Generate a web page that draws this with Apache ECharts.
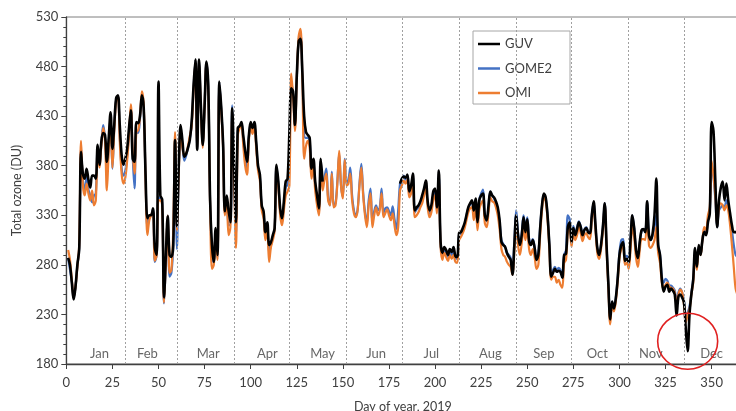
<!DOCTYPE html>
<html><head><meta charset="utf-8">
<script src="https://cdn.jsdelivr.net/npm/echarts@6/dist/echarts.min.js"></script>
<style>html,body{margin:0;padding:0;background:#fff;}#c{width:736px;height:411px;}</style>
</head><body><div id="c"></div>
<script>
// Daily total ozone (DU), day of year 1..365, 2019
const guv = [
287,280,262,245,258,280,296,394,372,367,
377,366,358,370,370,367,401,381,404,413,
411,384,408,434,397,421,448,451,421,391,
381,387,397,418,436,387,384,424,423,431,
451,438,370,327,330,330,337,297,290,465,
350,346,247,290,329,290,288,300,406,319,
380,421,405,389,392,398,406,425,460,487,
396,487,440,401,440,485,460,345,300,283,
317,290,465,440,404,334,350,335,323,438,
380,323,418,420,424,410,395,384,410,424,
418,424,404,380,371,340,334,313,323,
300,303,310,317,381,364,337,327,344,364,
367,414,458,455,421,470,505,508,475,430,
414,411,408,377,387,364,350,337,387,364,
null,null,null,null,null,null,null,null,null,null,
null,null,null,null,null,null,null,null,null,null,
null,null,null,null,null,null,null,null,null,null,
null,null,null,null,null,null,null,null,null,null,null,
362,367,369,368,371,354,360,372,335,
338,340,344,350,357,365,344,335,340,354,
357,338,375,303,292,298,295,290,296,293,
298,289,288,312,313,317,322,330,338,342,
345,335,347,323,345,350,352,330,325,340,
354,350,348,344,338,325,303,300,298,
292,288,285,270,300,330,310,300,310,328,
313,326,304,300,305,297,285,290,317,340,
352,348,330,300,268,272,276,273,274,273,
267,290,291,318,323,303,317,310,316,323,
318,310,315,317,313,312,330,344,320,297,
290,300,318,342,300,260,225,243,236,246,
265,290,300,303,284,286,283,305,330,317,
295,287,303,315,316,313,344,310,305,312,
330,367,300,290,265,253,258,260,253,256,
254,250,229,248,250,247,242,215,193,230,
250,265,297,278,300,290,305,313,310,323,
332,424,415,365,318,345,358,364,345,362,
345,332,320,313,313,312,310
];
const omi = [
295,285,265,247,258,278,300,405,360,350,
362,352,345,355,340,345,395,378,400,418,
405,355,395,428,378,415,445,450,405,372,
362,368,385,410,442,395,372,414,416,430,
455,440,365,310,325,330,335,284,290,345,
345,340,242,285,330,272,275,315,414,315,
375,412,398,390,392,400,410,420,455,484,
400,484,438,398,440,483,455,340,276,280,
310,285,462,436,400,330,345,310,318,430,
370,297,410,418,420,400,380,371,405,420,
412,420,398,375,365,335,327,305,315,
283,298,305,315,376,358,330,320,335,350,
354,360,473,450,415,468,510,518,470,387,
400,405,398,367,380,355,340,330,382,355,
365,372,345,340,372,338,340,362,395,360,
347,386,360,362,372,345,332,328,335,360,
378,350,330,318,340,352,318,330,338,330,
335,352,328,332,336,330,325,332,320,310,318,
355,360,365,362,366,348,352,365,328,
330,333,338,342,350,358,338,328,333,345,
350,332,365,298,285,292,288,284,290,286,
290,283,282,305,308,312,317,325,333,337,
338,325,340,315,336,342,345,322,318,333,
348,344,343,338,330,316,296,290,288,
283,280,278,270,295,322,300,290,302,318,
305,318,296,290,296,288,276,280,310,335,
348,344,326,296,265,268,268,262,265,260,
257,282,285,312,318,298,312,305,310,318,
312,304,310,312,308,306,325,340,316,292,
286,296,314,340,296,256,220,240,233,243,
262,286,296,298,280,282,276,295,318,308,
287,278,295,306,306,305,336,300,297,300,
305,318,292,282,262,255,260,262,258,257,
256,252,240,250,255,252,240,222,230,235,
250,262,290,275,296,290,305,318,315,330,
338,385,370,350,320,338,342,340,335,340,
335,320,300,278,256,250,248
];
const gome2 = [
287,275,263,246,258,279,297,398,365,355,
368,356,350,343,350,352,398,380,402,421,
408,375,398,430,377,418,446,450,410,378,
370,375,390,412,438,390,357,414,413,428,
452,436,367,318,327,330,336,283,290,348,
347,343,241,283,330,268,272,300,408,296,
378,416,400,385,390,398,407,422,458,486,
398,486,439,400,440,484,458,342,290,282,
314,287,464,438,402,332,348,320,320,441,
375,310,415,419,422,405,388,378,408,422,
415,422,401,378,368,338,331,310,320,
292,300,308,316,379,361,334,324,340,358,
361,390,463,452,418,468,507,513,472,410,
408,408,404,372,384,360,344,333,385,360,
368,377,348,340,374,340,342,364,392,360,
349,387,362,366,378,350,335,330,336,362,
382,353,333,322,345,357,322,334,340,335,
338,357,332,337,338,334,330,339,326,316,335,
362,366,370,366,370,352,356,370,333,
336,338,342,347,355,362,342,332,337,350,
354,336,370,300,290,295,292,288,293,290,
295,287,286,310,312,316,320,329,337,341,
344,332,346,322,346,352,356,330,324,340,
354,350,347,342,336,323,305,301,298,
292,290,287,276,305,335,312,302,312,330,
316,328,306,302,306,298,286,292,318,340,
350,347,330,300,270,275,278,274,277,275,
268,290,295,330,326,306,319,312,318,324,
319,311,316,318,314,313,330,343,319,296,
290,300,318,342,300,260,224,243,236,246,
266,292,305,306,288,289,285,306,330,317,
294,286,302,314,316,313,344,310,305,310,
318,330,300,290,268,262,266,264,259,259,
257,254,242,252,256,252,244,228,232,238,
252,266,294,278,298,291,305,315,312,326,
334,378,368,346,318,335,338,340,338,345,
340,328,315,300,290,288,286
];
const monthNames = ['Jan','Feb','Mar','Apr','May','Jun','Jul','Aug','Sep','Oct','Nov','Dec'];
const monthLabelDays = [18,44,77,109,139,168,198,230,259,288,317,350];
const monthStarts = [32,60,91,121,152,182,213,244,274,305,335];
const annotationCenter = [337, 203];

const FONT = 'Lato';
const chart = echarts.init(document.getElementById('c'), null, {renderer:'canvas'});
const pairs = arr => arr.map((v,i)=>[i+1, v]);

chart.setOption({
  animation:false,
  backgroundColor:'#ffffff',
  grid:{left:66.3, top:17, width:673, height:347, show:true, borderColor:'#7f7f7f', borderWidth:1,
        containLabel:false, outerBoundsMode:'none'},
  legend:{
    data:['GUV','GOME2','OMI'], orient:'vertical', left:473, top:31,
    icon:'rect', itemWidth:22, itemHeight:2.5, itemGap:10.5, padding:[6,18,4,5],
    borderColor:'#a6a6a6', borderWidth:1, backgroundColor:'#fff',
    textStyle:{fontSize:13, lineHeight:14, color:'#404040', fontFamily:FONT}
  },
  xAxis:{
    type:'value', min:0, max:365, interval:25,
    axisLine:{lineStyle:{color:'#404040', width:1.3}},
    axisTick:{show:true, length:5, lineStyle:{color:'#404040'}},
    axisLabel:{showMaxLabel:false, fontSize:13, color:'#404040', margin:12, fontFamily:FONT},
    splitLine:{show:false},
    name:'Day of year, 2019', nameLocation:'middle', nameGap:36,
    nameTextStyle:{fontSize:12.5, color:'#404040', fontFamily:FONT}
  },
  yAxis:{
    type:'value', min:180, max:530, interval:50,
    axisLine:{show:true, lineStyle:{color:'#404040', width:1.3}},
    axisTick:{show:true, length:5, lineStyle:{color:'#404040'}},
    minorTick:{show:true, splitNumber:5, length:3, lineStyle:{color:'#404040'}},
    axisLabel:{fontSize:13, color:'#404040', margin:8, fontFamily:FONT},
    splitLine:{show:false},
    name:'Total ozone (DU)', nameLocation:'middle', nameGap:43, nameRotate:90,
    nameTextStyle:{fontSize:12.5, color:'#404040', fontFamily:FONT}
  },
  series:[
    {name:'GOME2', type:'line', data:pairs(gome2), symbol:'none', smooth:0.35, z:2,
     lineStyle:{color:'#4472C4', width:2.2}, itemStyle:{color:'#4472C4'}},
    {name:'OMI', type:'line', data:pairs(omi), symbol:'none', smooth:0.35, z:3,
     lineStyle:{color:'#ED7D31', width:2.2}, itemStyle:{color:'#ED7D31'}},
    {name:'GUV', type:'line', data:pairs(guv), symbol:'none', smooth:0.35, z:4, connectNulls:false,
     lineStyle:{color:'#000000', width:2.6}, itemStyle:{color:'#000000'}},
    {name:'months', type:'scatter', symbolSize:0, silent:true, z:1,
     data:monthLabelDays.map((d,i)=>[d,190,monthNames[i]]),
     label:{show:true, position:'inside', formatter:p=>p.data[2], fontSize:13, color:'#404040', fontFamily:FONT},
     markLine:{symbol:'none', silent:true, label:{show:false},
       lineStyle:{type:[2,2], color:'#a0a0a0', width:1},
       data:monthStarts.map(d=>({xAxis:d}))}}
  ]
});

const c = chart.convertToPixel({gridIndex:0}, annotationCenter);
const g = [{type:'ellipse', shape:{cx:c[0], cy:c[1], rx:30, ry:28}, style:{fill:'none', stroke:'#e02020', lineWidth:1.6}, z:100, silent:true}];
if (guv.length!==365||omi.length!==365||gome2.length!==365){
  g.push({type:'text', left:200, top:150, style:{text:'LEN '+guv.length+' '+omi.length+' '+gome2.length, fill:'red', fontSize:20}});
}
chart.setOption({graphic:g});
</script>
</body></html>
